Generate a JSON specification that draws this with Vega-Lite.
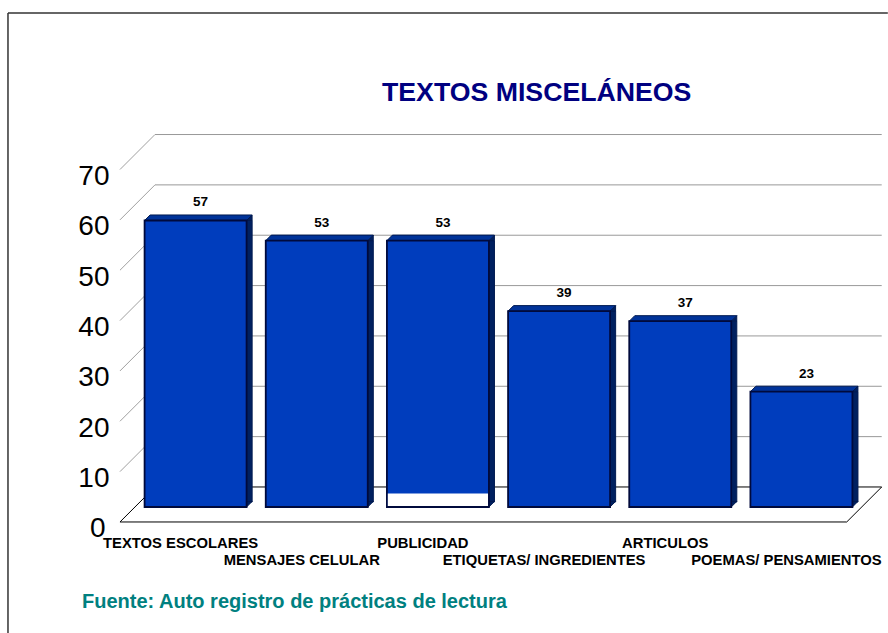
{
"$schema":"https://vega.github.io/schema/vega-lite/v6.json",
"width":888,"height":633,"padding":0,"autosize":{"type":"none"},
"background":"white",
"config":{"view":{"stroke":null}},
"title":{"text":"TEXTOS MISCELÁNEOS","anchor":"start","frame":"group","dx":382,"dy":127.5,"offset":0,"font":"Liberation Sans","fontSize":26.7,"fontWeight":"bold","color":"#000080","baseline":"alphabetic"},
"datasets":{
"barras":[{"tipo":"TEXTOS ESCOLARES","n":57},{"tipo":"MENSAJES CELULAR","n":53},{"tipo":"PUBLICIDAD","n":53},{"tipo":"ETIQUETAS/ INGREDIENTES","n":39},{"tipo":"ARTICULOS","n":37},{"tipo":"POEMAS/ PENSAMIENTOS","n":23}],
"niveles":[{"n":10},{"n":20},{"n":30},{"n":40},{"n":50},{"n":60},{"n":70}],
"piso":[{"n":0}],
"franja":[{"tipo":"PUBLICIDAD","n":2.7}],
"fuente":[{"texto":"Fuente: Auto registro de prácticas de lectura"}],
"marco":[{"n":101.1}]
},
"data":{"name":"barras"},
"layer":[
{"data":{"name":"marco"},"mark":{"type":"rule","stroke":"#333333","strokeWidth":1.5,"xOffset":-172.6,"x2Offset":101.4},
 "encoding":{
  "x":{"datum":"TEXTOS ESCOLARES","type":"nominal","sort":null,
   "scale":{"type":"band","domain":["TEXTOS ESCOLARES","MENSAJES CELULAR","PUBLICIDAD","ETIQUETAS/ INGREDIENTES","ARTICULOS","POEMAS/ PENSAMIENTOS"],"range":[120,847],"paddingInner":0,"paddingOuter":0},
   "axis":{"title":null,"orient":"bottom","offset":-98,"domain":false,"ticks":false,"grid":false,"labelAngle":0,"labelPadding":0,"labelFont":"Liberation Sans","labelFontSize":14.8,"labelFontWeight":"bold","labelColor":"#000000","labelLimit":400,"labelOverlap":false,"labelBound":false,"labelFlush":false,"labelBaseline":"top",
    "encoding":{"labels":{"dy":{"condition":{"test":"indexof(['MENSAJES CELULAR','ETIQUETAS/ INGREDIENTES','POEMAS/ PENSAMIENTOS'],datum.value)>=0","value":17},"value":0}}}}},
  "x2":{"datum":"POEMAS/ PENSAMIENTOS"},
  "y":{"field":"n","type":"quantitative",
   "scale":{"domain":[-22.05,103.67],"nice":false,"zero":false},
   "axis":{"title":null,"orient":"left","offset":-109,"values":[0,10,20,30,40,50,60,70],"domain":false,"ticks":false,"grid":false,"labelPadding":0,"labelOffset":7,"labelFont":"Liberation Sans","labelFontSize":28,"labelColor":"#000000","labelOverlap":false,"labelBound":false,"labelFlush":false,
    "encoding":{"labels":{"dx":{"condition":{"test":"datum.value==0","value":-4},"value":0}}}}}
 }},
{"data":{"name":"marco"},"mark":{"type":"rule","stroke":"#333333","strokeWidth":1.5,"xOffset":-172.6},
 "encoding":{"x":{"datum":"TEXTOS ESCOLARES","type":"nominal"},"y":{"field":"n","type":"quantitative"},"y2":{"datum":-22.05}}},
{"data":{"name":"niveles"},"mark":{"type":"rule","stroke":"#999999","strokeWidth":1,"xOffset":-25.6,"x2Offset":95.3,"yOffset":-35},
 "encoding":{"x":{"datum":"TEXTOS ESCOLARES","type":"nominal"},"x2":{"datum":"POEMAS/ PENSAMIENTOS"},"y":{"field":"n","type":"quantitative"}}},
{"data":{"name":"niveles"},"mark":{"type":"point","shape":"M-60.6,0L-25.6,-35","size":4,"filled":false,"stroke":"#a0a0a0","strokeWidth":1,"opacity":1},
 "encoding":{"x":{"datum":"TEXTOS ESCOLARES","type":"nominal"},"y":{"field":"n","type":"quantitative"}}},
{"data":{"name":"piso"},"mark":{"type":"rule","stroke":"#000000","strokeWidth":1,"xOffset":-25.6,"x2Offset":95.3,"yOffset":-35},
 "encoding":{"x":{"datum":"TEXTOS ESCOLARES","type":"nominal"},"x2":{"datum":"POEMAS/ PENSAMIENTOS"},"y":{"field":"n","type":"quantitative"}}},
{"data":{"name":"piso"},"mark":{"type":"rule","stroke":"#000000","strokeWidth":1,"xOffset":-60.6,"x2Offset":60.3},
 "encoding":{"x":{"datum":"TEXTOS ESCOLARES","type":"nominal"},"x2":{"datum":"POEMAS/ PENSAMIENTOS"},"y":{"field":"n","type":"quantitative"}}},
{"data":{"name":"piso"},"mark":{"type":"point","shape":"M-60.6,0L-25.6,-35","size":4,"filled":false,"stroke":"#000000","strokeWidth":1,"opacity":1},
 "encoding":{"x":{"datum":"TEXTOS ESCOLARES","type":"nominal"},"y":{"field":"n","type":"quantitative"}}},
{"data":{"name":"piso"},"mark":{"type":"point","shape":"M60.3,0L95.3,-35","size":4,"filled":false,"stroke":"#000000","strokeWidth":1,"opacity":1},
 "encoding":{"x":{"datum":"POEMAS/ PENSAMIENTOS","type":"nominal"},"y":{"field":"n","type":"quantitative"}}},
{"mark":{"type":"bar","size":5.5,"fill":"#002060","stroke":"#001a50","strokeWidth":1,"xOffset":68.8,"yOffset":-14.5,"y2Offset":-20},
 "encoding":{"x":{"field":"tipo","type":"nominal","sort":null},"y":{"field":"n","type":"quantitative","stack":null},"y2":{"datum":0}}},
{"mark":{"type":"point","shape":"M66,0L71.5,0L71.5,-5.5Z","size":4,"filled":true,"fill":"#002060","stroke":"#001a50","strokeWidth":1,"opacity":1,"yOffset":-14.5},
 "encoding":{"x":{"field":"tipo","type":"nominal","sort":null},"y":{"field":"n","type":"quantitative"}}},
{"mark":{"type":"point","shape":"M66,0L71.5,-5.5L66,-5.5Z","size":4,"filled":true,"fill":"#002060","stroke":"#001a50","strokeWidth":1,"opacity":1,"yOffset":-15},
 "encoding":{"x":{"field":"tipo","type":"nominal","sort":null},"y":{"datum":0,"type":"quantitative"}}},
{"mark":{"type":"point","shape":"M-36,0L66,0L71.5,-5.5L-30.5,-5.5Z","size":4,"filled":true,"fill":"#003399","stroke":"#001a50","strokeWidth":1,"opacity":1,"yOffset":-14.5},
 "encoding":{"x":{"field":"tipo","type":"nominal","sort":null},"y":{"field":"n","type":"quantitative"}}},
{"mark":{"type":"bar","size":102,"fill":"#003DBD","stroke":"#000a3c","strokeWidth":1.8,"xOffset":15,"yOffset":-14.5,"y2Offset":-15},
 "encoding":{"x":{"field":"tipo","type":"nominal","sort":null},"y":{"field":"n","type":"quantitative","stack":null},"y2":{"datum":0}}},
{"data":{"name":"franja"},"mark":{"type":"bar","size":100.2,"fill":"#ffffff","xOffset":15,"yOffset":-15,"y2Offset":-16},
 "encoding":{"x":{"field":"tipo","type":"nominal","sort":null},"y":{"field":"n","type":"quantitative","stack":null},"y2":{"datum":0}}},
{"mark":{"type":"text","font":"Liberation Sans","fontSize":13.5,"fontWeight":"bold","fill":"#000000","xOffset":20,"yOffset":-32.5,"align":"center","baseline":"middle"},
 "encoding":{"x":{"field":"tipo","type":"nominal","sort":null},"y":{"field":"n","type":"quantitative"},"text":{"field":"n","type":"quantitative"}}},
{"data":{"name":"fuente"},"mark":{"type":"text","font":"Liberation Sans","fontSize":20,"fontWeight":"bold","fill":"#008080","align":"left","baseline":"middle","xOffset":-98.6},
 "encoding":{"x":{"datum":"TEXTOS ESCOLARES","type":"nominal"},"y":{"datum":-15.8,"type":"quantitative"},"text":{"field":"texto","type":"nominal"}}}
]
}
